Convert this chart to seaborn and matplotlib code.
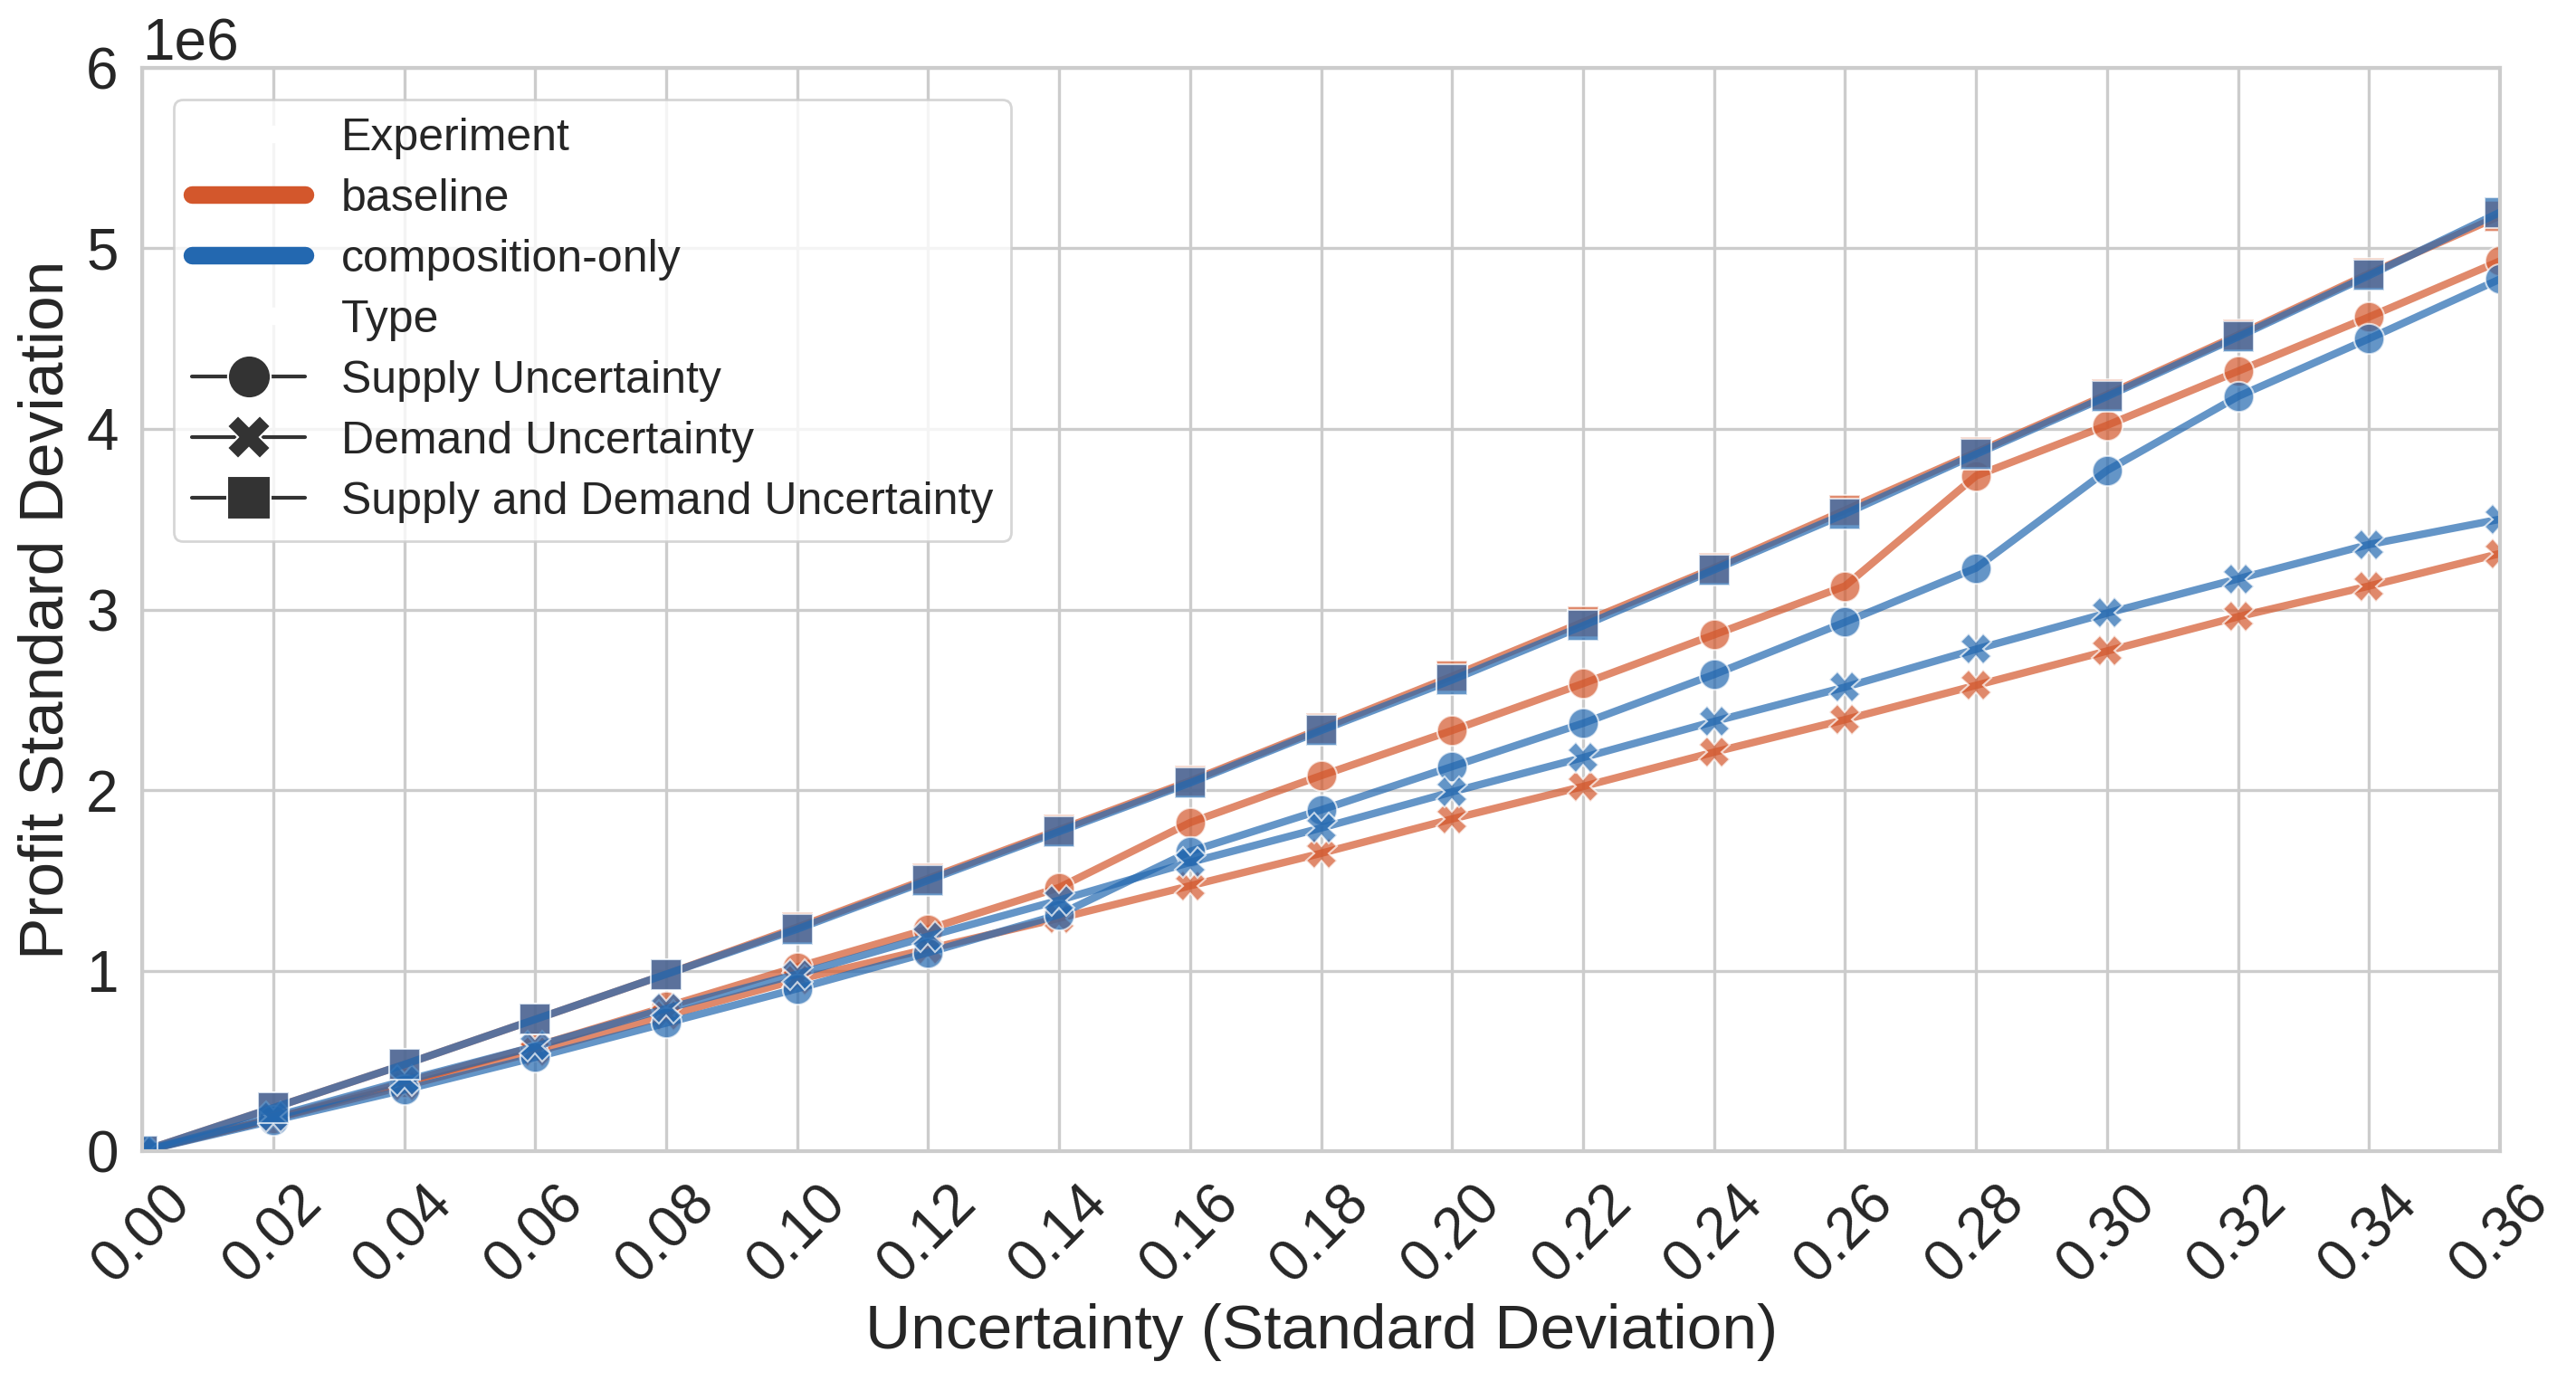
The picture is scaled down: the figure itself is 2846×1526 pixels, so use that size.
import numpy as np
import pandas as pd
import seaborn as sns
import matplotlib.pyplot as plt

# uncertainty levels (std dev)
x_vals = [0.00, 0.02, 0.04, 0.06, 0.08, 0.10, 0.12, 0.14, 0.16, 0.18,
          0.20, 0.22, 0.24, 0.26, 0.28, 0.30, 0.32, 0.34, 0.36]

# profit std dev, millions
base_supply = [0.00, 0.18, 0.38, 0.58, 0.80, 1.02, 1.23, 1.46, 1.82, 2.08,
               2.33, 2.59, 2.86, 3.13, 3.74, 4.02, 4.32, 4.62, 4.93]
base_demand = [0.00, 0.18, 0.36, 0.55, 0.75, 0.95, 1.12, 1.29, 1.47, 1.65,
               1.84, 2.02, 2.21, 2.39, 2.58, 2.77, 2.96, 3.13, 3.31]
base_both = [0.00, 0.24, 0.48, 0.73, 0.98, 1.24, 1.51, 1.78, 2.05, 2.34,
             2.63, 2.93, 3.23, 3.55, 3.87, 4.19, 4.52, 4.86, 5.18]
comp_supply = [0.00, 0.17, 0.34, 0.52, 0.71, 0.90, 1.10, 1.31, 1.66, 1.89,
               2.13, 2.37, 2.64, 2.93, 3.23, 3.77, 4.18, 4.50, 4.83]
comp_demand = [0.00, 0.19, 0.39, 0.58, 0.79, 0.98, 1.19, 1.39, 1.60, 1.79,
               1.99, 2.18, 2.38, 2.57, 2.78, 2.98, 3.17, 3.36, 3.50]
comp_both = [0.00, 0.24, 0.48, 0.73, 0.98, 1.23, 1.50, 1.77, 2.04, 2.33,
             2.61, 2.91, 3.22, 3.53, 3.86, 4.18, 4.51, 4.85, 5.20]

experiments = ['baseline', 'composition-only']
types = ['Supply Uncertainty', 'Demand Uncertainty', 'Supply and Demand Uncertainty']
colors = ['#d3572c', '#2368b0']

series = {
    ('baseline', types[0]): base_supply,
    ('baseline', types[1]): base_demand,
    ('baseline', types[2]): base_both,
    ('composition-only', types[0]): comp_supply,
    ('composition-only', types[1]): comp_demand,
    ('composition-only', types[2]): comp_both,
}

rows = []
for (exp, typ), vals in series.items():
    for x, v in zip(x_vals, vals):
        rows.append({'Uncertainty': x, 'Profit Std': v * 1e6,
                     'Experiment': exp, 'Type': typ})
df = pd.DataFrame(rows)

sns.set_theme(style='whitegrid')
plt.rcParams['font.family'] = ['Liberation Sans', 'DejaVu Sans']
plt.rcParams['axes.edgecolor'] = '.8'
plt.rcParams['axes.linewidth'] = 1.5
plt.rcParams['grid.linewidth'] = 1.2

fig, ax = plt.subplots(figsize=(14.23, 7.63), dpi=200)
fig.subplots_adjust(left=0.0552, right=0.9705, top=0.9509, bottom=0.1664)

sns.lineplot(data=df, x='Uncertainty', y='Profit Std', hue='Experiment',
             style='Type', hue_order=experiments, style_order=types,
             palette=colors, markers=['o', 'X', 's'], dashes=False,
             linewidth=3, markersize=12, alpha=0.7, ax=ax)

ax.set_xlim(0, 0.36)
ax.set_ylim(0, 6e6)
ax.set_xticks(x_vals)
ax.set_xticklabels([f'{x:.2f}' for x in x_vals], rotation=45)
ax.tick_params(axis='both', labelsize=23)
ax.yaxis.get_offset_text().set_fontsize(23)
ax.set_xlabel('Uncertainty (Standard Deviation)', fontsize=25)
ax.set_ylabel('Profit Standard Deviation', fontsize=25)

leg = ax.legend(loc='upper left', fontsize=18, handlelength=2.5,
                labelspacing=0.42, handletextpad=0.8, borderaxespad=0.7)
for line in leg.get_lines():
    if line.get_marker() in ('None', None, '') or line.get_label() in experiments:
        line.set_linewidth(7)
        line.set_alpha(1)
    else:
        line.set_markersize(17)
        line.set_linewidth(1.5)
        line.set_alpha(1)

fig.savefig('out.png', dpi=200)
